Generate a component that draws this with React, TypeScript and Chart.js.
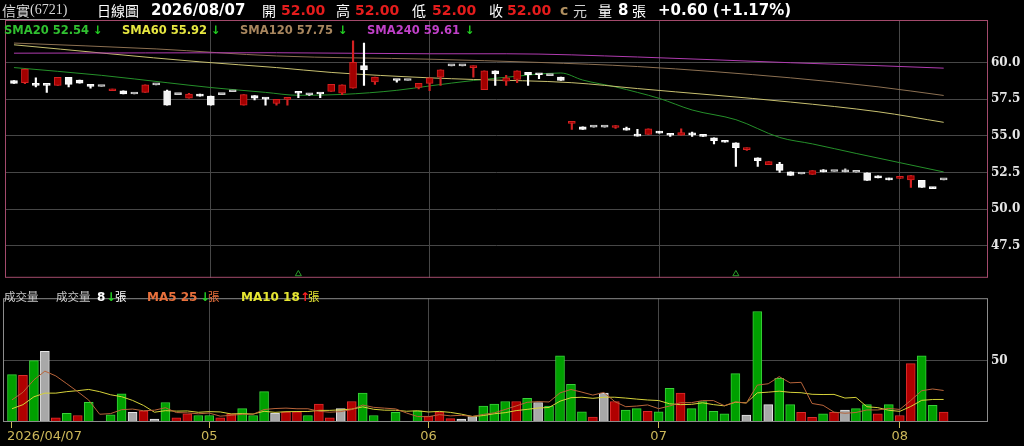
import { useEffect, useRef } from 'react'
import Chart from 'chart.js/auto'

// 2026 trading days shown on the chart (MM/DD)
const year = '2026'
const dates = [
  '04/07', '04/08', '04/09', '04/10', '04/13', '04/14', '04/15', '04/16', '04/17', '04/20',
  '04/21', '04/22', '04/23', '04/24', '04/27', '04/28', '04/29', '04/30',
  '05/04', '05/05', '05/06', '05/07', '05/08', '05/11', '05/12', '05/13', '05/14', '05/15',
  '05/18', '05/19', '05/20', '05/21', '05/22', '05/25', '05/26', '05/27', '05/28', '05/29',
  '06/01', '06/02', '06/03', '06/04', '06/05', '06/08', '06/09', '06/10', '06/11', '06/12',
  '06/15', '06/16', '06/17', '06/18', '06/22', '06/23', '06/24', '06/25', '06/26', '06/29', '06/30',
  '07/01', '07/02', '07/03', '07/06', '07/07', '07/08', '07/09', '07/10', '07/13', '07/14',
  '07/15', '07/16', '07/17', '07/20', '07/21', '07/22', '07/23', '07/24', '07/27', '07/28',
  '07/29', '07/30',
  '08/03', '08/04', '08/05', '08/06', '08/07'
]

const opens = [
  58.77, 58.62, 58.55, 58.47, 58.44, 58.99, 58.80, 58.50, 58.36, 58.07,
  58.07, 57.85, 57.96, 58.47, 58.07, 57.81, 57.57, 57.85, 57.70, 57.81,
  58.00, 57.09, 57.74, 57.57, 57.20, 57.48, 57.96, 57.80, 57.88, 58.03,
  57.91, 58.25, 59.78, 58.68, null, 58.80, 58.77, 58.29, 58.57, 58.99,
  59.76, 59.76, 59.65, 58.14, 59.43, 58.73, 58.84, 59.32, 59.17, 59.10,
  59.01, 55.84, 55.61, 55.59, 55.59, 55.57, 55.53, 55.11, 55.09, 55.31,
  55.15, 55.04, 55.15, 55.07, 54.87, 54.67, 54.52, 54.06, 53.50, 53.03,
  53.07, 52.54, 52.40, 52.37, 52.57, 52.57, 52.55, 52.52, 52.48, 52.28,
  52.13, 52.10, 52.00, 51.97, 51.49, 52.00
]
const highs = [
  58.77, 59.54, 58.95, 58.47, 58.99, 58.99, 58.80, 58.50, 58.36, 58.18,
  58.07, 57.85, 58.47, 58.47, 58.12, 57.81, 57.90, 57.85, 57.70, 57.81,
  58.00, 57.81, 57.74, 57.57, 57.48, 57.61, 57.96, 57.86, 57.88, 58.50,
  58.47, 61.47, 61.32, 59.01, null, 58.80, 58.77, 58.57, 58.95, 59.49,
  59.76, 59.76, 59.76, 59.43, 59.43, 59.12, 59.43, 59.32, 59.21, 59.10,
  59.01, 55.99, 55.61, 55.59, 55.59, 55.70, 55.60, 55.44, 55.48, 55.31,
  55.15, 55.48, 55.25, 55.07, 54.87, 54.67, 54.52, 54.19, 53.50, 53.24,
  53.20, 52.54, 52.40, 52.63, 52.70, 52.57, 52.76, 52.52, 52.48, 52.28,
  52.13, 52.22, 52.30, 51.97, 51.49, 52.00
]
const lows = [
  58.57, 58.55, 58.34, 57.96, 58.44, 58.33, 58.58, 58.25, 58.36, 58.07,
  57.85, 57.85, 57.96, 58.47, 57.09, 57.81, 57.57, 57.70, 57.09, 57.81,
  58.00, 57.09, 57.44, 57.09, 57.09, 57.09, 57.60, 57.74, 57.60, 58.03,
  57.80, 58.25, 58.44, 58.51, null, 58.66, 58.77, 58.20, 58.07, 58.44,
  59.76, 59.76, 59.00, 58.14, 58.44, 58.44, 58.62, 58.44, 58.90, 59.10,
  58.77, 55.44, 55.44, 55.59, 55.59, 55.50, 55.39, 54.98, 55.09, 55.18,
  54.96, 55.04, 54.96, 54.96, 54.45, 54.56, 52.91, 54.00, 52.91, 53.03,
  52.50, 52.30, 52.40, 52.37, 52.55, 52.57, 52.55, 52.52, 51.97, 52.13,
  52.00, 52.10, 51.49, 51.49, 51.40, 52.00
]
const closes = [
  58.57, 59.54, 58.44, 58.44, 58.99, 58.51, 58.58, 58.36, 58.36, 58.18,
  57.85, 57.85, 58.47, 58.47, 57.09, 57.81, 57.85, 57.70, 57.09, 57.81,
  58.00, 57.81, 57.57, 57.50, 57.48, 57.61, 57.90, 57.80, 57.85, 58.50,
  58.47, 60.00, 59.49, 59.01, null, 58.77, 58.77, 58.57, 58.95, 59.49,
  59.76, 59.76, 59.76, 59.43, 59.21, 58.95, 59.43, 59.16, 59.16, 59.10,
  58.77, 55.99, 55.44, 55.59, 55.59, 55.70, 55.39, 54.98, 55.48, 55.18,
  55.04, 55.22, 55.07, 54.96, 54.67, 54.56, 54.19, 54.19, 53.31, 53.24,
  52.65, 52.30, 52.40, 52.63, 52.55, 52.57, 52.55, 52.52, 51.97, 52.13,
  52.00, 52.22, 52.30, 51.49, 51.40, 52.00
]

// volume in 張, direction vs previous close (1 up, -1 down, 0 flat)
const volumes = [
  38.6, 38, 50, 57.6, 3.3, 7, 5.3, 16, 0, 5.8,
  23, 7.8, 9.1, 2.3, 15.9, 3.3, 6.6, 5.3, 5.3, 3.3,
  6.6, 10.9, 5.3, 24.7, 7.3, 8.3, 8.3, 5.3, 14.6, 3.3,
  10.9, 16.7, 23.5, 5.3, 0, 7.8, 0, 9.1, 4.8, 8.3,
  2.8, 2.3, 4.5, 12.9, 14.6, 16.7, 16.7, 19.2, 15.9, 12.9,
  53.8, 30.6, 8.3, 4, 23.5, 16.7, 9.8, 10.9, 8.6, 8.3,
  27.5, 23.5, 10.9, 16.7, 8.6, 6.6, 39.4, 5.6, 89.9, 14.1,
  35.6, 14.1, 7.8, 3.8, 6.6, 7.8, 9.6, 10.9, 14.1, 6.6,
  14.1, 5.3, 47.5, 53.8, 13.6, 8
]
const volDirs = [
  -1, 1, -1, 0, 1, -1, 1, -1, 0, -1,
  -1, 0, 1, 0, -1, 1, 1, -1, -1, 1,
  1, -1, -1, -1, 0, 1, 1, -1, 1, 1,
  0, 1, -1, -1, 0, -1, 0, -1, 1, 1,
  1, 0, 0, -1, -1, -1, 1, -1, 0, -1,
  -1, -1, -1, 1, 0, 1, -1, -1, 1, -1,
  -1, 1, -1, -1, -1, -1, -1, 0, -1, 0,
  -1, -1, 1, 1, -1, 1, 0, -1, -1, 1,
  -1, 1, 1, -1, -1, 1
]
// volume MA values before enough days are on the chart
const ma5Lead = [18, 24.2, 34.3, 41.4]
const ma10Lead = [10.8, 14.1, 20.5, 23.5, 23.5, 24.7, 25.5, 26.5, 24.7]

// moving averages: [day index, value]
const sma20 = [
  [0, 59.65], [8, 59.12], [14, 58.62], [18, 58.29], [23, 57.96], [26, 57.76], [30, 57.82],
  [35, 58.1], [38, 58.4], [42, 58.77], [45, 58.99], [50, 59.28], [52, 58.8], [55, 58.33],
  [57, 57.96], [59, 57.55], [62, 56.76], [66, 56.1], [70, 54.89], [73, 54.45], [77, 53.8], [85, 52.54]
]
const sma60 = [
  [0, 61.2], [17, 60.04], [24, 59.65], [29, 59.32], [38, 58.95], [42, 58.84], [51, 58.62],
  [57, 58.22], [71, 57.3], [79, 56.64], [85, 55.92]
]
const sma120 = [
  [0, 61.32], [13, 60.92], [24, 60.44], [38, 60.22], [48, 60.0], [57, 59.72], [71, 58.95],
  [79, 58.34], [85, 57.75]
]
const sma240 = [
  [0, 60.63], [24, 60.66], [38, 60.59], [45, 60.59], [57, 60.37], [71, 59.98], [79, 59.78], [85, 59.61]
]

const signalDays = [26, 66]
const priceTicks = [47.5, 50, 52.5, 55, 57.5, 60]
const volTicks = [50]

const GRID = '#474747'
const RED = '#a30000'
const RED_EDGE = '#d42222'
const WHITE = '#f4f4f4'
const FLAT = '#cfcfcf'
const AXIS_TEXT = '#cdb85a'

const monthStarts = dates.map((d, i) => i).filter(i => i === 0 || dates[i].slice(0, 2) !== dates[i - 1].slice(0, 2))
const days = dates.map((_, i) => i).filter(i => opens[i] !== null)

const xMin = -0.82
const xMax = 89.05

function candleFill(i: number) {
  const o = opens[i] as number, c = closes[i] as number
  return c > o ? RED : c < o ? WHITE : FLAT
}
function candleEdge(i: number) {
  const o = opens[i] as number, c = closes[i] as number
  return c > o ? RED_EDGE : c < o ? '#ffffff' : FLAT
}

function movingAvg(n: number, lead: number[]) {
  return volumes.map((_, i) => {
    if (i < n - 1) return lead[i]
    let s = 0
    for (let k = i - n + 1; k <= i; k++) s += volumes[k]
    return s / n
  })
}

function framePlugin(color: string) {
  return {
    id: 'frame',
    afterDraw(chart: any) {
      const { ctx, chartArea: a } = chart
      ctx.save()
      ctx.strokeStyle = color
      ctx.lineWidth = 1
      ctx.strokeRect(a.left + 0.5, a.top + 0.5, a.right - a.left - 1, a.bottom - a.top - 1)
      ctx.restore()
    }
  }
}

const xLabelPlugin = {
  id: 'xLabels',
  afterDraw(chart: any) {
    const { ctx, chartArea } = chart
    const x = chart.scales.x
    ctx.save()
    ctx.font = '13px "DejaVu Sans"'
    ctx.fillStyle = AXIS_TEXT
    ctx.textBaseline = 'middle'
    monthStarts.forEach((i, k) => {
      const px = x.getPixelForValue(i)
      ctx.textAlign = k === 0 ? 'left' : 'center'
      const label = k === 0 ? `${year}/${dates[i]}` : dates[i].slice(0, 2)
      ctx.fillText(label, k === 0 ? px - 5 : px, chartArea.bottom + 15)
    })
    ctx.restore()
  }
}

function xScale(tickMarks: boolean) {
  return {
    type: 'linear' as const,
    min: xMin,
    max: xMax,
    offset: false,
    afterBuildTicks: (s: any) => { s.ticks = monthStarts.map(v => ({ value: v })) },
    afterFit: (s: any) => { s.height = tickMarks ? 24 : 0 },
    ticks: { display: false },
    grid: {
      offset: false,
      color: (c: any) => (c.tick && c.tick.value === 0 ? 'transparent' : GRID),
      drawTicks: tickMarks,
      tickLength: 6,
      tickColor: AXIS_TEXT
    },
    border: { display: false }
  }
}

const axisFont = { family: '"DejaVu Serif"', size: 12, weight: 'bold' as const }

function Label({ x, y, color, font, children }: { x: number; y: number; color: string; font: string; children: any }) {
  return (
    <span style={{ position: 'absolute', left: x, top: y, transform: 'translateY(-50%)', color, font, lineHeight: 1, whiteSpace: 'pre' }}>
      {children}
    </span>
  )
}

const CJK = '14px "Noto Sans CJK TC"'
const CJK_S = '11.5px "Noto Sans CJK TC"'
const NUM = 'bold 14px "DejaVu Sans"'
const NUM_L = 'bold 15px "DejaVu Sans"'
const SMA = 'bold 11.5px "DejaVu Sans"'
const VOLF = 'bold 12px "DejaVu Sans"'

export default function App() {
  const priceRef = useRef<HTMLCanvasElement>(null)
  const volRef = useRef<HTMLCanvasElement>(null)

  useEffect(() => {
    if (!priceRef.current || !volRef.current) return

    const line = (pts: number[][], color: string) => ({
      type: 'line' as const,
      data: pts.map(([x, y]) => ({ x, y })),
      borderColor: color,
      borderWidth: 1,
      pointRadius: 0,
      cubicInterpolationMode: 'monotone' as const,
      order: 2
    })

    const price = new Chart(priceRef.current, {
      type: 'bar',
      data: {
        datasets: [
          {
            type: 'bar',
            data: days.map(i => ({ x: i, y: [lows[i], highs[i]] })) as any,
            backgroundColor: days.map(i => candleEdge(i)),
            barThickness: 1.5,
            grouped: false,
            order: 1
          },
          {
            type: 'bar',
            data: days.map(i => ({
              x: i,
              y: [Math.min(opens[i] as number, closes[i] as number), Math.max(opens[i] as number, closes[i] as number)]
            })) as any,
            backgroundColor: days.map(i => candleFill(i)),
            borderColor: days.map(i => candleEdge(i)),
            borderWidth: 1,
            borderSkipped: false,
            barThickness: 7,
            minBarLength: 2,
            grouped: false,
            order: 0
          },
          line(sma240, '#b03cb0') as any,
          line(sma120, '#8c7052') as any,
          line(sma60, '#c8c070') as any,
          line(sma20, '#25902a') as any,
          {
            type: 'scatter',
            data: signalDays.map(i => ({ x: i, y: 45.59 })),
            pointStyle: 'triangle',
            pointRadius: 3.5,
            borderColor: '#2a9a2a',
            backgroundColor: 'transparent',
            borderWidth: 1,
            order: 0
          } as any
        ]
      },
      options: {
        responsive: true,
        maintainAspectRatio: false,
        animation: false,
        events: [],
        layout: { padding: { top: 20, left: 3, right: 0, bottom: 1 } },
        plugins: { legend: { display: false }, tooltip: { enabled: false } },
        scales: {
          x: xScale(false) as any,
          y: {
            position: 'right',
            min: 45.33,
            max: 62.89,
            afterFit: (s: any) => { s.width = 36 },
            afterBuildTicks: (s: any) => { s.ticks = priceTicks.map(v => ({ value: v })) },
            ticks: { color: '#e6e6e6', font: axisFont, padding: 3, callback: (v: any) => Number(v).toFixed(1) },
            grid: { color: GRID, drawTicks: false },
            border: { display: false }
          }
        }
      },
      plugins: [framePlugin('#a34a6c')]
    })

    const vol = new Chart(volRef.current, {
      type: 'bar',
      data: {
        datasets: [
          {
            type: 'bar',
            data: volumes.map((v, i) => ({ x: i, y: v })),
            backgroundColor: volDirs.map(d => (d > 0 ? '#b00000' : d < 0 ? '#00a000' : '#a8a8a8')),
            borderColor: volDirs.map(d => (d > 0 ? '#dd2c2c' : d < 0 ? '#3ad03a' : '#e6e6e6')),
            borderWidth: 1,
            borderSkipped: false,
            barThickness: 9,
            order: 1
          },
          {
            type: 'line',
            data: movingAvg(5, ma5Lead).map((v, i) => ({ x: i, y: v })),
            borderColor: '#b8643a',
            borderWidth: 1,
            pointRadius: 0,
            order: 0
          },
          {
            type: 'line',
            data: movingAvg(10, ma10Lead).map((v, i) => ({ x: i, y: v })),
            borderColor: '#d6d23a',
            borderWidth: 1,
            pointRadius: 0,
            order: 0
          }
        ] as any
      },
      options: {
        responsive: true,
        maintainAspectRatio: false,
        animation: false,
        events: [],
        layout: { padding: { top: 1, left: 3, right: 0, bottom: 0 } },
        plugins: { legend: { display: false }, tooltip: { enabled: false } },
        scales: {
          x: xScale(true) as any,
          y: {
            position: 'right',
            min: 0,
            max: 100.76,
            afterFit: (s: any) => { s.width = 36 },
            afterBuildTicks: (s: any) => { s.ticks = volTicks.map(v => ({ value: v })) },
            ticks: { color: '#e6e6e6', font: axisFont, padding: 3 },
            grid: { color: GRID, drawTicks: false },
            border: { display: false }
          }
        }
      },
      plugins: [framePlugin('#8c8c8c'), xLabelPlugin]
    })

    return () => {
      price.destroy()
      vol.destroy()
    }
  }, [])

  const last = closes.length - 1
  const change = (closes[last] as number) - (closes[last - 1] as number)
  const pct = (change / (closes[last - 1] as number)) * 100
  const o = (opens[last] as number).toFixed(2)
  const h = (highs[last] as number).toFixed(2)
  const l = (lows[last] as number).toFixed(2)
  const c = (closes[last] as number).toFixed(2)
  const ma5Now = Math.floor(movingAvg(5, ma5Lead)[last])
  const ma10Now = Math.floor(movingAvg(10, ma10Lead)[last])
  const smaLast = (pts: number[][]) => pts[pts.length - 1][1].toFixed(2)

  return (
    <div style={{ position: 'fixed', left: 0, top: 0, width: 1024, height: 446, background: '#000', overflow: 'hidden' }}>
      <div style={{ position: 'absolute', left: 0, top: 0, width: 1024, height: 288 }}>
        <canvas ref={priceRef}></canvas>
      </div>
      <div style={{ position: 'absolute', left: 0, top: 288, width: 1024, height: 158 }}>
        <canvas ref={volRef}></canvas>
      </div>
      <div style={{ position: 'absolute', left: 0, top: 19, width: 70, height: 1, background: '#9a9a9a' }}></div>

      <Label x={2} y={10} color="#d8d8d8" font={CJK}>信實</Label>
      <Label x={30} y={10} color="#d8d8d8" font='14px "Liberation Serif"'>(6721)</Label>
      <Label x={97} y={10} color="#ffffff" font={CJK}>日線圖</Label>
      <Label x={151} y={10} color="#ffffff" font={NUM_L}>{`${year}/${dates[last]}`}</Label>
      <Label x={262} y={10} color="#ffffff" font={CJK}>開</Label>
      <Label x={281} y={10} color="#e41c1c" font={NUM}>{o}</Label>
      <Label x={336} y={10} color="#ffffff" font={CJK}>高</Label>
      <Label x={355} y={10} color="#e41c1c" font={NUM}>{h}</Label>
      <Label x={412} y={10} color="#ffffff" font={CJK}>低</Label>
      <Label x={432} y={10} color="#e41c1c" font={NUM}>{l}</Label>
      <Label x={489} y={10} color="#ffffff" font={CJK}>收</Label>
      <Label x={507} y={10} color="#e41c1c" font={NUM}>{c}</Label>
      <Label x={560} y={10} color="#b09060" font={NUM}>c</Label>
      <Label x={573} y={10} color="#d0d0d0" font={CJK}>元</Label>
      <Label x={598} y={10} color="#ffffff" font={CJK}>量</Label>
      <Label x={618} y={10} color="#ffffff" font={NUM_L}>{Math.round(volumes[last])}</Label>
      <Label x={632} y={10} color="#ffffff" font={CJK}>張</Label>
      <Label x={658} y={10} color="#ffffff" font={NUM_L}>
        {`${change >= 0 ? '+' : ''}${change.toFixed(2)} (${pct >= 0 ? '+' : ''}${pct.toFixed(2)}%)`}
      </Label>

      <Label x={4} y={31} color="#30c030" font={SMA}>{`SMA20 ${smaLast(sma20)}`}</Label>
      <Label x={93} y={31} color="#22d022" font={SMA}>↓</Label>
      <Label x={122} y={31} color="#e6e640" font={SMA}>{`SMA60 ${smaLast(sma60)}`}</Label>
      <Label x={211} y={31} color="#22d022" font={SMA}>↓</Label>
      <Label x={240} y={31} color="#a8865e" font={SMA}>{`SMA120 ${smaLast(sma120)}`}</Label>
      <Label x={338} y={31} color="#22d022" font={SMA}>↓</Label>
      <Label x={367} y={31} color="#c040c8" font={SMA}>{`SMA240 ${smaLast(sma240)}`}</Label>
      <Label x={465} y={31} color="#22d022" font={SMA}>↓</Label>

      <Label x={4} y={297} color="#c8c8c8" font={CJK_S}>成交量</Label>
      <Label x={56} y={297} color="#c8c8c8" font={CJK_S}>成交量</Label>
      <Label x={97} y={297} color="#ffffff" font={VOLF}>{Math.round(volumes[last])}</Label>
      <Label x={106} y={297} color="#22d022" font={VOLF}>↓</Label>
      <Label x={115} y={297} color="#ffffff" font={CJK_S}>張</Label>
      <Label x={147} y={297} color="#e8703c" font={VOLF}>{`MA5 ${ma5Now}`}</Label>
      <Label x={200} y={297} color="#22d022" font={VOLF}>↓</Label>
      <Label x={208} y={297} color="#e8703c" font={CJK_S}>張</Label>
      <Label x={241} y={297} color="#e6e632" font={VOLF}>{`MA10 ${ma10Now}`}</Label>
      <Label x={300} y={297} color="#ff2020" font={VOLF}>↑</Label>
      <Label x={308} y={297} color="#e6e632" font={CJK_S}>張</Label>
    </div>
  )
}
